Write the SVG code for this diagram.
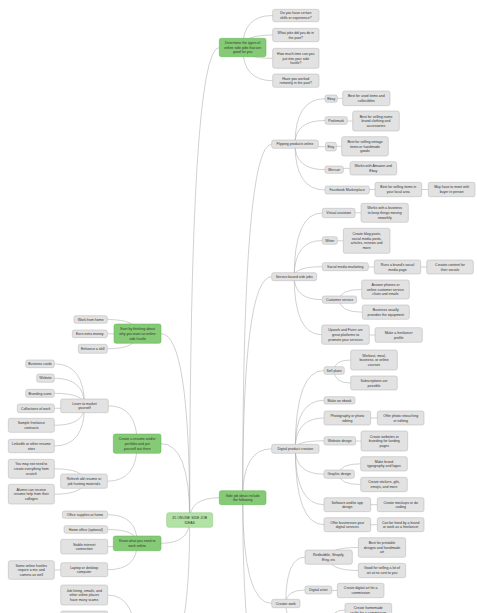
<svg xmlns="http://www.w3.org/2000/svg" width="477" height="613" viewBox="0 0 477 613">
<style>
.c path{fill:none;stroke:#ababab;stroke-width:0.55}
.n rect{fill:#e2e2e2;stroke:#b3b3b3;stroke-width:0.5}
.g rect{fill:#85cb75;stroke:#5fae50;stroke-width:0.5}
.r rect{fill:#b3e2a6;stroke:#8cc47e;stroke-width:0.5}
text{font-family:"Liberation Sans",Arial,sans-serif;font-size:3.5px;fill:#333;text-anchor:middle}
</style>
<rect width="477" height="613" fill="#fff"/>
<g class="c" id="connectors">
<path d="M189.7,520 Q189.7,47.5 219.3,47.5"/>
<path d="M189.7,520 Q189.7,333.7 161,333.7"/>
<path d="M189.7,520 Q189.7,443.7 161,443.7"/>
<path d="M189.7,520 Q189.7,543.3 161,543.3"/>
<path d="M189.7,520 Q189.7,497.7 219.3,497.7"/>
<path d="M189.7,520 Q189.7,660 161,660"/>
<path d="M242.7,47.5 Q242.7,15.5 272.7,15.5"/>
<path d="M242.7,47.5 Q242.7,35 272.7,35"/>
<path d="M242.7,47.5 Q242.7,58.3 272.7,58.3"/>
<path d="M242.7,47.5 Q242.7,80.7 272.7,80.7"/>
<path d="M242.7,497.7 Q242.7,144.2 271.7,144.2"/>
<path d="M242.7,497.7 Q242.7,276.7 271.7,276.7"/>
<path d="M242.7,497.7 Q242.7,448.8 271.7,448.8"/>
<path d="M242.7,497.7 Q242.7,603.5 271.7,603.5"/>
<path d="M242.7,497.7 Q242.7,700 271.7,700"/>
<path d="M295,144.2 Q295,98.7 325,98.7"/>
<path d="M295,144.2 Q295,120.5 325,120.5"/>
<path d="M295,144.2 Q295,146.7 325.5,146.7"/>
<path d="M295,144.2 Q295,169.7 325,169.7"/>
<path d="M295,144.2 Q295,190 325,190"/>
<path d="M331.2,98.7 Q331.2,98.3 342.7,98.3"/>
<path d="M336.2,120.5 Q336.2,121 352.7,121"/>
<path d="M330.9,146.7 Q330.9,146.3 341.7,146.3"/>
<path d="M334.2,169.7 Q334.2,168.3 350,168.3"/>
<path d="M347.2,190 Q347.2,189.5 375,189.5"/>
<path d="M398.3,189.5 L428.3,189.5"/>
<path d="M294.2,276.7 Q294.2,213 322.3,213"/>
<path d="M294.2,276.7 Q294.2,240.5 322.3,240.5"/>
<path d="M294.2,276.7 Q294.2,266.7 322.3,266.7"/>
<path d="M294.2,276.7 Q294.2,299.7 322.3,299.7"/>
<path d="M294.2,276.7 Q294.2,334.7 321.7,334.7"/>
<path d="M338.7,213 Q338.7,212.8 361,212.8"/>
<path d="M329.8,240.5 Q329.8,240.8 343.3,240.8"/>
<path d="M345.3,266.7 Q345.3,267 374.3,267"/>
<path d="M397.5,267 L426.7,267"/>
<path d="M339.5,299.7 Q339.5,289.5 361.7,289.5"/>
<path d="M339.5,299.7 Q339.5,312.2 362.3,312.2"/>
<path d="M345.5,334.7 Q345.5,335 375,335"/>
<path d="M295.3,448.8 Q295.3,370.5 324,370.5"/>
<path d="M295.3,448.8 Q295.3,400.3 324,400.3"/>
<path d="M295.3,448.8 Q295.3,418 324,418"/>
<path d="M295.3,448.8 Q295.3,440.8 324,440.8"/>
<path d="M295.3,448.8 Q295.3,474.2 324,474.2"/>
<path d="M295.3,448.8 Q295.3,504.7 324,504.7"/>
<path d="M295.3,448.8 Q295.3,524.7 324,524.7"/>
<path d="M334.2,370.5 Q334.2,360 350.7,360"/>
<path d="M334.2,370.5 Q334.2,383 350.7,383"/>
<path d="M347.3,418 L377.3,418"/>
<path d="M339.8,440.8 Q339.8,441 361,441"/>
<path d="M339.2,474.2 Q339.2,463.8 360.7,463.8"/>
<path d="M339.2,474.2 Q339.2,484.5 360.7,484.5"/>
<path d="M347.3,504.7 L377.3,504.7"/>
<path d="M347.3,524.7 L377.3,524.7"/>
<path d="M285.8,603.5 Q285.8,557.2 305,557.2"/>
<path d="M285.8,603.5 Q285.8,590 305,590"/>
<path d="M285.8,603.5 Q285.8,625 305,625"/>
<path d="M328.7,557.2 Q328.7,547.5 358.3,547.5"/>
<path d="M328.7,557.2 Q328.7,570.5 358.3,570.5"/>
<path d="M318.3,590 Q318.3,590.5 337.3,590.5"/>
<path d="M330,625 Q330,610 345,610"/>
<path d="M137.5,333.7 Q137.5,319.5 107.3,319.5"/>
<path d="M137.5,333.7 Q137.5,333.8 107.3,333.8"/>
<path d="M137.5,333.7 Q137.5,348.8 107.3,348.8"/>
<path d="M137.2,443.7 Q137.2,405.8 108.3,405.8"/>
<path d="M137.2,443.7 Q137.2,481.2 107.3,481.2"/>
<path d="M84.5,405.8 Q84.5,363.8 54.3,363.8"/>
<path d="M84.5,405.8 Q84.5,378.2 54.3,378.2"/>
<path d="M84.5,405.8 Q84.5,393.3 54.3,393.3"/>
<path d="M84.5,405.8 Q84.5,408.3 54.3,408.3"/>
<path d="M84.5,405.8 Q84.5,425.3 54.3,425.3"/>
<path d="M84.5,405.8 Q84.5,446 54.3,446"/>
<path d="M84,481.2 Q84,468.8 54.3,468.8"/>
<path d="M84,481.2 Q84,494.2 54.3,494.2"/>
<path d="M137.2,543.3 Q137.2,514.7 107.7,514.7"/>
<path d="M137.2,543.3 Q137.2,529.5 107.7,529.5"/>
<path d="M137.2,543.3 Q137.2,546.7 107.7,546.7"/>
<path d="M137.2,543.3 Q137.2,569.7 107.7,569.7"/>
<path d="M84.2,569.7 Q84.2,570 54.3,570"/>
<path d="M137,650 Q137,595 107.7,595"/>
<path d="M137,650 Q137,618 107.7,618"/>
</g>
<g class="r" id="root"><rect x="166.7" y="512.7" width="46" height="14.6" rx="2"/><text x="189.7" y="518.9">45 ONLINE SIDE JOB</text><text x="189.7" y="523.5">IDEAS</text></g>
<g class="g" id="determine"><rect x="219.3" y="38.3" width="46.7" height="18.4" rx="2"/><text x="242.7" y="44.1">Determine the types of</text><text x="242.7" y="48.7">online side jobs that are</text><text x="242.7" y="53.3">good for you</text></g>
<g class="n" id="q1"><rect x="272.7" y="9.3" width="46.3" height="12.4" rx="2"/><text x="295.8" y="14.4">Do you have certain</text><text x="295.8" y="19">skills or experience?</text></g>
<g class="n" id="q2"><rect x="272.7" y="28.3" width="46.3" height="13.4" rx="2"/><text x="295.8" y="33.9">What jobs did you do in</text><text x="295.8" y="38.5">the past?</text></g>
<g class="n" id="q3"><rect x="272.7" y="48.3" width="46.3" height="20" rx="2"/><text x="295.8" y="54.9">How much time can you</text><text x="295.8" y="59.5">put into your side</text><text x="295.8" y="64.1">hustle?</text></g>
<g class="n" id="q4"><rect x="272.7" y="74" width="46.3" height="13.3" rx="2"/><text x="295.8" y="79.6">Have you worked</text><text x="295.8" y="84.2">remotely in the past?</text></g>
<g class="g" id="side"><rect x="219.3" y="490.7" width="46.7" height="14" rx="2"/><text x="242.7" y="496.6">Side job ideas include</text><text x="242.7" y="501.2">the following</text></g>
<g class="n" id="flip"><rect x="271.7" y="140" width="46.6" height="8.3" rx="2"/><text x="295" y="145.4">Flipping products online</text></g>
<g class="n" id="ebay"><rect x="325" y="95" width="12.3" height="7.3" rx="2"/><text x="331.2" y="99.9">Ebay</text></g>
<g class="n" id="ebayD"><rect x="342.7" y="91" width="47.3" height="14.7" rx="2"/><text x="366.3" y="97.2">Best for used items and</text><text x="366.3" y="101.8">collectibles</text></g>
<g class="n" id="posh"><rect x="325" y="116.7" width="22.3" height="7.6" rx="2"/><text x="336.2" y="121.7">Poshmark</text></g>
<g class="n" id="poshD"><rect x="352.7" y="111" width="46.6" height="20" rx="2"/><text x="376" y="117.6">Best for selling name</text><text x="376" y="122.2">brand clothing and</text><text x="376" y="126.8">accessories</text></g>
<g class="n" id="etsy"><rect x="325.5" y="142.3" width="10.8" height="8.7" rx="2"/><text x="330.9" y="147.9">Etsy</text></g>
<g class="n" id="etsyD"><rect x="341.7" y="136.7" width="46.6" height="19.3" rx="2"/><text x="365" y="142.9">Best for selling vintage</text><text x="365" y="147.5">items or handmade</text><text x="365" y="152.1">goods</text></g>
<g class="n" id="merc"><rect x="325" y="166" width="18.3" height="7.3" rx="2"/><text x="334.2" y="170.9">Mercari</text></g>
<g class="n" id="mercD"><rect x="350" y="161.7" width="46.7" height="13.3" rx="2"/><text x="373.3" y="167.2">Works with Amazon and</text><text x="373.3" y="171.8">Ebay</text></g>
<g class="n" id="fb"><rect x="325" y="186" width="44.3" height="8" rx="2"/><text x="347.2" y="191.2">Facebook Marketplace</text></g>
<g class="n" id="fbD"><rect x="375" y="182.3" width="46.7" height="14.4" rx="2"/><text x="398.3" y="188.4">Best for selling items in</text><text x="398.3" y="193">your local area</text></g>
<g class="n" id="fbD2"><rect x="428.3" y="182.3" width="46.7" height="14.4" rx="2"/><text x="451.7" y="188.4">May have to meet with</text><text x="451.7" y="193">buyer in person</text></g>
<g class="n" id="service"><rect x="271.7" y="272.7" width="45" height="8" rx="2"/><text x="294.2" y="277.9">Service based side jobs</text></g>
<g class="n" id="va"><rect x="322.3" y="208.3" width="32.7" height="9.4" rx="2"/><text x="338.7" y="214.2">Virtual assistant</text></g>
<g class="n" id="vaD"><rect x="361" y="203.3" width="47.3" height="19" rx="2"/><text x="384.7" y="209.4">Works with a business</text><text x="384.7" y="214">to keep things moving</text><text x="384.7" y="218.6">smoothly</text></g>
<g class="n" id="writer"><rect x="322.3" y="236.7" width="15" height="7.6" rx="2"/><text x="329.8" y="241.7">Writer</text></g>
<g class="n" id="writerD"><rect x="343.3" y="228.3" width="46.7" height="25" rx="2"/><text x="366.7" y="235.1">Create blog posts,</text><text x="366.7" y="239.7">social media posts,</text><text x="366.7" y="244.3">articles, reviews and</text><text x="366.7" y="248.9">more</text></g>
<g class="n" id="smm"><rect x="322.3" y="262.7" width="46" height="8" rx="2"/><text x="345.3" y="267.9">Social media marketing</text></g>
<g class="n" id="smmD"><rect x="374.3" y="260" width="46.4" height="14" rx="2"/><text x="397.5" y="265.9">Runs a brand's social</text><text x="397.5" y="270.5">media page</text></g>
<g class="n" id="smmD2"><rect x="426.7" y="260" width="46.6" height="14" rx="2"/><text x="450" y="265.9">Creates content for</text><text x="450" y="270.5">their socials</text></g>
<g class="n" id="cs"><rect x="322.3" y="296" width="34.4" height="7.3" rx="2"/><text x="339.5" y="300.9">Customer service</text></g>
<g class="n" id="csD1"><rect x="361.7" y="280" width="47.6" height="19" rx="2"/><text x="385.5" y="286.1">Answer phones or</text><text x="385.5" y="290.7">online customer service</text><text x="385.5" y="295.3">chats and emails</text></g>
<g class="n" id="csD2"><rect x="362.3" y="305" width="47" height="14.3" rx="2"/><text x="385.8" y="311.1">Business usually</text><text x="385.8" y="315.7">provides the equipment</text></g>
<g class="n" id="upwork"><rect x="321.7" y="325" width="47.6" height="19.3" rx="2"/><text x="345.5" y="331.3">Upwork and Fiverr are</text><text x="345.5" y="335.9">great platforms to</text><text x="345.5" y="340.5">promote your services</text></g>
<g class="n" id="upworkD"><rect x="375" y="327.7" width="47.3" height="14.6" rx="2"/><text x="398.7" y="333.9">Make a freelancer</text><text x="398.7" y="338.5">profile</text></g>
<g class="n" id="digital"><rect x="271.7" y="444.3" width="47.3" height="9" rx="2"/><text x="295.3" y="450">Digital product creation</text></g>
<g class="n" id="sell"><rect x="324" y="366.7" width="20.3" height="7.6" rx="2"/><text x="334.2" y="371.7">Sell plans</text></g>
<g class="n" id="sellD1"><rect x="350.7" y="350" width="46.6" height="20" rx="2"/><text x="374" y="356.6">Workout, meal,</text><text x="374" y="361.2">business, or online</text><text x="374" y="365.8">courses</text></g>
<g class="n" id="sellD2"><rect x="350.7" y="376" width="46.6" height="14" rx="2"/><text x="374" y="381.9">Subscriptions are</text><text x="374" y="386.5">possible</text></g>
<g class="n" id="ebook"><rect x="324" y="396.7" width="31" height="7.3" rx="2"/><text x="339.5" y="401.5">Make an ebook</text></g>
<g class="n" id="photo"><rect x="324" y="411" width="46.7" height="14" rx="2"/><text x="347.3" y="416.9">Photography or photo</text><text x="347.3" y="421.5">editing</text></g>
<g class="n" id="photoD"><rect x="377.3" y="411" width="46.7" height="14" rx="2"/><text x="400.7" y="416.9">Offer photo retouching</text><text x="400.7" y="421.5">or editing</text></g>
<g class="n" id="web"><rect x="324" y="436.7" width="31.7" height="8.3" rx="2"/><text x="339.8" y="442">Website design</text></g>
<g class="n" id="webD"><rect x="361" y="431" width="46.7" height="20" rx="2"/><text x="384.3" y="437.6">Create websites or</text><text x="384.3" y="442.2">branding for landing</text><text x="384.3" y="446.8">pages</text></g>
<g class="n" id="graphic"><rect x="324" y="470" width="30.3" height="8.3" rx="2"/><text x="339.2" y="475.4">Graphic design</text></g>
<g class="n" id="graphicD1"><rect x="360.7" y="456.7" width="46.6" height="14.3" rx="2"/><text x="384" y="462.7">Make brand</text><text x="384" y="467.3">typography and logos</text></g>
<g class="n" id="graphicD2"><rect x="360.7" y="477.3" width="46.6" height="14.4" rx="2"/><text x="384" y="483.4">Create stickers, gifs,</text><text x="384" y="488">emojis, and more</text></g>
<g class="n" id="software"><rect x="324" y="497.7" width="46.7" height="14" rx="2"/><text x="347.3" y="503.6">Software and/or app</text><text x="347.3" y="508.2">design</text></g>
<g class="n" id="softwareD"><rect x="377.3" y="497.7" width="46.7" height="14" rx="2"/><text x="400.7" y="503.6">Create mockups or do</text><text x="400.7" y="508.2">coding</text></g>
<g class="n" id="offer"><rect x="324" y="517.7" width="46.7" height="14" rx="2"/><text x="347.3" y="523.6">Offer businesses your</text><text x="347.3" y="528.2">digital services</text></g>
<g class="n" id="offerD"><rect x="377.3" y="517.7" width="46.7" height="14" rx="2"/><text x="400.7" y="523.6">Can be hired by a brand</text><text x="400.7" y="528.2">or work as a freelancer</text></g>
<g class="n" id="creator"><rect x="271.7" y="599.3" width="28.3" height="8.4" rx="2"/><text x="285.8" y="604.7">Creator work</text></g>
<g class="n" id="redbubble"><rect x="305" y="550" width="47.3" height="14.3" rx="2"/><text x="328.7" y="556.1">Redbubble, Shopify,</text><text x="328.7" y="560.7">Etsy, etc</text></g>
<g class="n" id="redbubbleD1"><rect x="358.3" y="537.7" width="47.4" height="19.6" rx="2"/><text x="382" y="544.1">Best for printable</text><text x="382" y="548.7">designs and handmade</text><text x="382" y="553.3">art</text></g>
<g class="n" id="redbubbleD2"><rect x="358.3" y="563.3" width="47.4" height="14.4" rx="2"/><text x="382" y="569.4">Good for selling a lot of</text><text x="382" y="574">art at no cost to you</text></g>
<g class="n" id="artist"><rect x="305" y="586" width="26.7" height="8" rx="2"/><text x="318.3" y="591.2">Digital artist</text></g>
<g class="n" id="artistD"><rect x="337.3" y="583.3" width="46.7" height="14.4" rx="2"/><text x="360.7" y="589.4">Create digital art for a</text><text x="360.7" y="594">commission</text></g>
<g class="n" id="homemade"><rect x="345" y="603.3" width="46.7" height="19" rx="2"/><text x="368.3" y="608.9">Create homemade</text><text x="368.3" y="613.5">crafts for a commission</text></g>
<g class="g" id="start"><rect x="114" y="324" width="47" height="19.3" rx="2"/><text x="137.5" y="330.3">Start by thinking about</text><text x="137.5" y="334.9">why you want an online</text><text x="137.5" y="339.5">side hustle</text></g>
<g class="n" id="wfh"><rect x="74" y="315.7" width="33.3" height="7.6" rx="2"/><text x="90.7" y="320.7">Work from home</text></g>
<g class="n" id="eem"><rect x="72.3" y="330" width="35" height="7.7" rx="2"/><text x="89.8" y="335">Earn extra money</text></g>
<g class="n" id="eas"><rect x="78.3" y="344.3" width="29" height="9" rx="2"/><text x="92.8" y="350">Enhance a skill</text></g>
<g class="g" id="resume"><rect x="113.3" y="434" width="47.7" height="19.3" rx="2"/><text x="137.2" y="440.3">Create a resume and/or</text><text x="137.2" y="444.9">portfolio and put</text><text x="137.2" y="449.5">yourself out there</text></g>
<g class="n" id="market"><rect x="60.7" y="399" width="47.6" height="13.7" rx="2"/><text x="84.5" y="404.7">Learn to market</text><text x="84.5" y="409.3">yourself</text></g>
<g class="n" id="cards"><rect x="25.7" y="360" width="28.6" height="7.7" rx="2"/><text x="40" y="365">Business cards</text></g>
<g class="n" id="website"><rect x="36.7" y="374" width="17.6" height="8.3" rx="2"/><text x="45.5" y="379.4">Website</text></g>
<g class="n" id="icons"><rect x="25.7" y="389.3" width="28.6" height="8" rx="2"/><text x="40" y="394.5">Branding icons</text></g>
<g class="n" id="collect"><rect x="17.3" y="404" width="37" height="8.7" rx="2"/><text x="35.8" y="409.5">Collections of work</text></g>
<g class="n" id="contracts"><rect x="8.3" y="418.3" width="46" height="14" rx="2"/><text x="31.3" y="424.2">Sample freelance</text><text x="31.3" y="428.8">contracts</text></g>
<g class="n" id="linkedin"><rect x="8.3" y="439.3" width="46" height="13.4" rx="2"/><text x="31.3" y="444.9">LinkedIn or other resume</text><text x="31.3" y="449.5">sites</text></g>
<g class="n" id="refresh"><rect x="60.7" y="474" width="46.6" height="14.3" rx="2"/><text x="84" y="480.1">Refresh old resume or</text><text x="84" y="484.7">job hunting materials</text></g>
<g class="n" id="scratch"><rect x="8.3" y="459.3" width="46" height="19" rx="2"/><text x="31.3" y="465.4">You may not need to</text><text x="31.3" y="470">create everything from</text><text x="31.3" y="474.6">scratch</text></g>
<g class="n" id="alumni"><rect x="8.3" y="484.3" width="46" height="19.7" rx="2"/><text x="31.3" y="490.8">Alumni can receive</text><text x="31.3" y="495.4">resume help from their</text><text x="31.3" y="500">colleges</text></g>
<g class="g" id="know"><rect x="113.3" y="536" width="47.7" height="14.7" rx="2"/><text x="137.2" y="542.2">Know what you need to</text><text x="137.2" y="546.8">work online</text></g>
<g class="n" id="supplies"><rect x="62.3" y="511" width="45.4" height="7.3" rx="2"/><text x="85" y="515.9">Office supplies at home</text></g>
<g class="n" id="homeoffice"><rect x="64" y="525.7" width="43.7" height="7.6" rx="2"/><text x="85.8" y="530.7">Home office (optional)</text></g>
<g class="n" id="internet"><rect x="60.7" y="539.3" width="47" height="14.7" rx="2"/><text x="84.2" y="545.6">Stable internet</text><text x="84.2" y="550.2">connection</text></g>
<g class="n" id="laptop"><rect x="60.7" y="562.7" width="47" height="14" rx="2"/><text x="84.2" y="568.6">Laptop or desktop</text><text x="84.2" y="573.2">computer</text></g>
<g class="n" id="mic"><rect x="8.3" y="560.7" width="46" height="18.6" rx="2"/><text x="31.3" y="566.6">Some online hustles</text><text x="31.3" y="571.2">require a mic and</text><text x="31.3" y="575.8">camera as well</text></g>
<g class="n" id="scams"><rect x="60.7" y="585" width="47" height="20" rx="2"/><text x="84.2" y="591.6">Job listing, emails, and</text><text x="84.2" y="596.2">other online places</text><text x="84.2" y="600.8">have many scams</text></g>
<g class="n" id="cutoff"><rect x="60.7" y="611" width="47" height="14" rx="2"/></g>
</svg>
